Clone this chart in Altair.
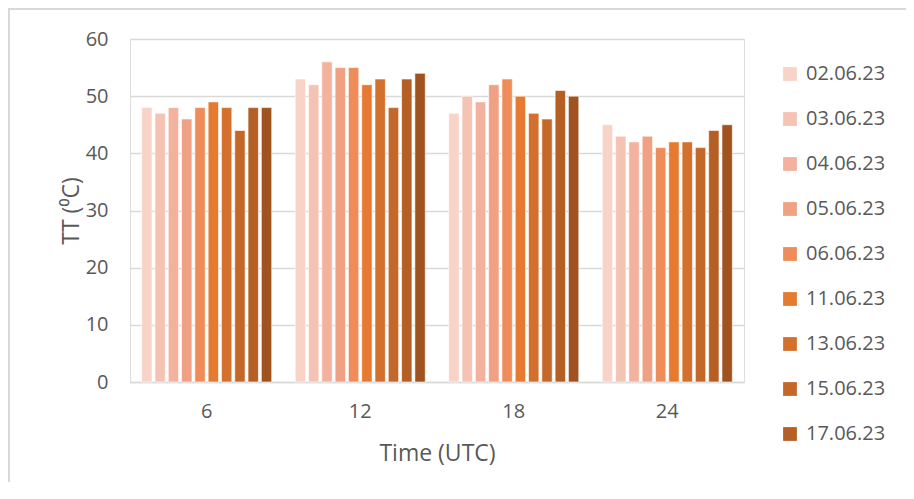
import altair as alt
import pandas as pd

times = ["6", "12", "18", "24"]
dates = ["02.06.23", "03.06.23", "04.06.23", "05.06.23", "06.06.23",
         "11.06.23", "13.06.23", "15.06.23", "17.06.23", "18.06.23"]
colors = ["#F8D3C7", "#F5C3B4", "#F3B29D", "#F0A083", "#EE8C5A",
          "#E67A30", "#D4702D", "#C4682A", "#B55F24", "#A0521F"]

v6 = [48, 47, 48, 46, 48, 49, 48, 44, 48, 48]
v12 = [53, 52, 56, 55, 55, 52, 53, 48, 53, 54]
v18 = [47, 50, 49, 52, 53, 50, 47, 46, 51, 50]
v24 = [45, 43, 42, 43, 41, 42, 42, 41, 44, 45]

rows = []
for t, vals in zip(times, [v6, v12, v18, v24]):
    for d, v in zip(dates, vals):
        rows.append({"time": t, "date": d, "TT": v})
df = pd.DataFrame(rows)

FONT = "Open Sans"
W, H = 614, 343

bars = alt.Chart(df).mark_bar(stroke="white", strokeWidth=0.6).encode(
    x=alt.X("time:N", sort=times, title="Time (UTC)",
            scale=alt.Scale(paddingInner=0.153, paddingOuter=0.076),
            axis=alt.Axis(labelAngle=0, labelFontSize=20, labelColor="#595959",
                          labelFont=FONT, titleFont=FONT, titleFontSize=23,
                          titleColor="#595959", titleFontWeight="normal",
                          domainColor="#d9d9d9", domainWidth=1.5, ticks=False,
                          labelPadding=19, titlePadding=21)),
    xOffset=alt.XOffset("date:N", sort=dates, scale=alt.Scale(paddingInner=0.22)),
    y=alt.Y("TT:Q", title="TT (⁰C)",
            scale=alt.Scale(domain=[0, 60]),
            axis=alt.Axis(values=[0, 10, 20, 30, 40, 50, 60], labelFontSize=20,
                          labelColor="#595959", labelFont=FONT, titleFont=FONT,
                          titleFontSize=23, titleColor="#595959",
                          titleFontWeight="normal", domain=False, ticks=False,
                          gridColor="#d9d9d9", gridWidth=1.5, labelPadding=22,
                          titlePadding=2)),
    color=alt.Color("date:N", sort=dates,
                    scale=alt.Scale(domain=dates, range=colors),
                    legend=alt.Legend(title=None, orient="none",
                                      legendX=650, legendY=25,
                                      values=dates[:9],
                                      symbolType="square", symbolSize=190,
                                      symbolStrokeWidth=0,
                                      labelFontSize=20, labelFont=FONT,
                                      labelColor="#595959", rowPadding=25,
                                      labelOffset=6)),
)

border = alt.Chart(df).mark_rect(fill=None, stroke="#d9d9d9", strokeWidth=1.5).encode(
    x=alt.value(-121), x2=alt.value(W + 200),
    y=alt.value(-30), y2=alt.value(H + 200),
)

chart = alt.layer(border, bars).properties(
    width=W, height=H,
    autosize=alt.AutoSizeParams(type="none"),
    padding={"left": 122, "top": 31, "right": 162, "bottom": 100},
).configure_view(stroke=None).configure(background="white")

chart.save("out.html", embed_options={"renderer": "svg", "actions": False})
